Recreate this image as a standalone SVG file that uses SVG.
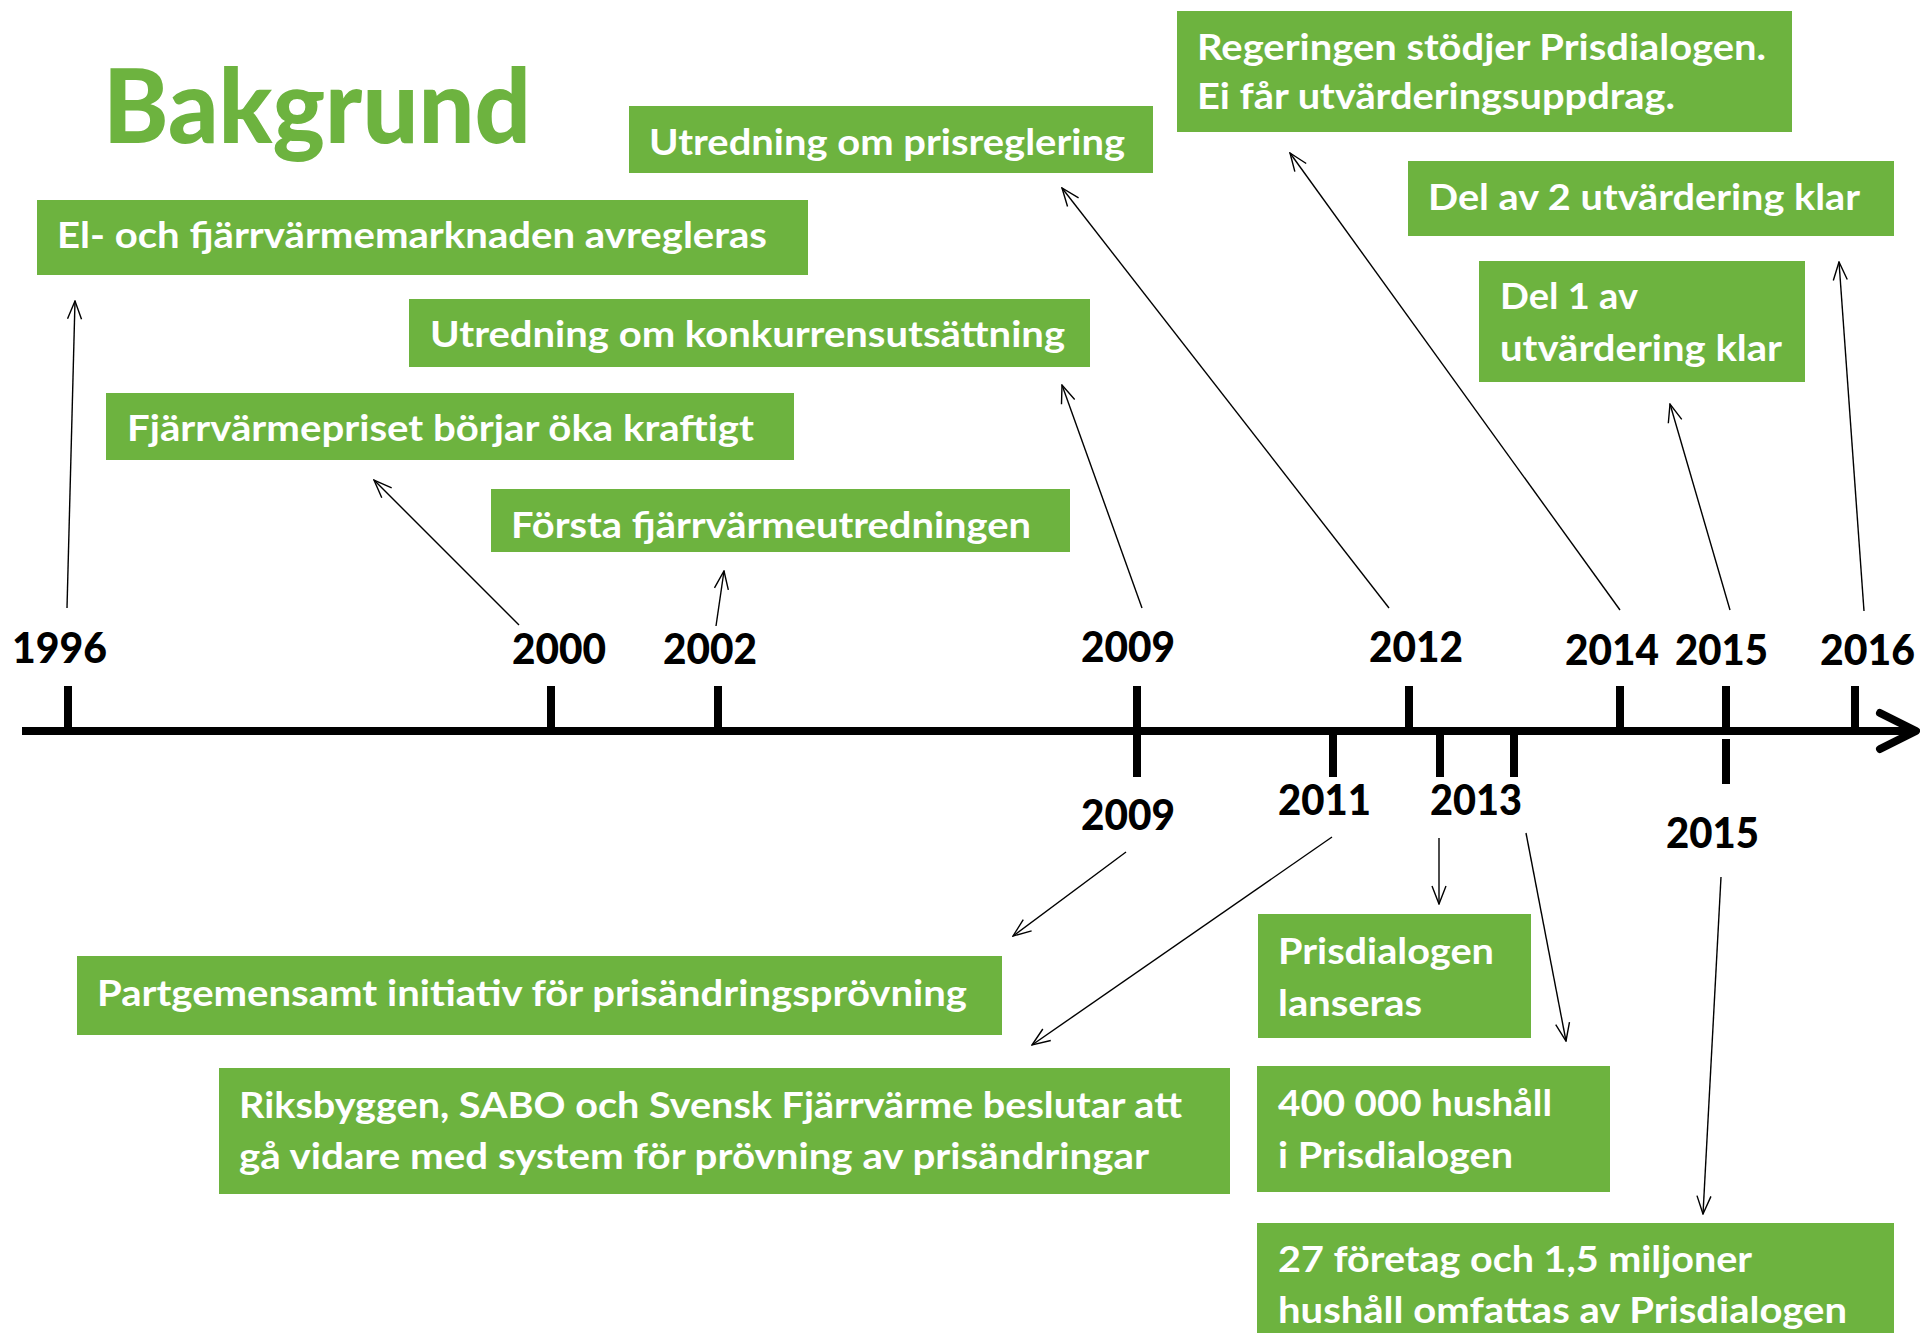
<svg xmlns="http://www.w3.org/2000/svg" width="1920" height="1333" viewBox="0 0 1920 1333">
<defs>
<style>
.box{fill:#6DB33F;}
.bt{font-family:Lato,"Open Sans","Liberation Sans",sans-serif;font-weight:700;font-size:36px;fill:#FFFFFF;}
.yr{font-family:Lato,"Open Sans","Liberation Sans",sans-serif;font-weight:900;font-size:42px;fill:#000000;}
.title{font-family:Lato,"Open Sans","Liberation Sans",sans-serif;font-weight:900;font-size:102px;fill:#6DB33F;}
.con{stroke:#000;stroke-width:1.4;fill:none;marker-end:url(#arr);}
.tick{stroke:#000;stroke-width:8;}
</style>
<marker id="arr" viewBox="0 0 20 16" refX="19" refY="8" markerWidth="20" markerHeight="16" markerUnits="userSpaceOnUse" orient="auto">
<path d="M1,1 L19,8 L1,15" fill="none" stroke="#000" stroke-width="1.4"/>
</marker>
</defs>
<rect width="1920" height="1333" fill="#FFFFFF"/>

<text class="title" x="103" y="143" textLength="428" lengthAdjust="spacingAndGlyphs">Bakgrund</text>

<g id="axis">
<line x1="22" y1="731" x2="1912" y2="731" stroke="#000" stroke-width="8"/>
<polyline points="1880,713 1916,731 1880,749" fill="none" stroke="#000" stroke-width="8" stroke-linecap="round" stroke-linejoin="round"/>
<line class="tick" x1="68" y1="686" x2="68" y2="731"/>
<line class="tick" x1="551" y1="686" x2="551" y2="731"/>
<line class="tick" x1="718" y1="686" x2="718" y2="731"/>
<line class="tick" x1="1137" y1="686" x2="1137" y2="777"/>
<line class="tick" x1="1409" y1="686" x2="1409" y2="731"/>
<line class="tick" x1="1620" y1="686" x2="1620" y2="731"/>
<line class="tick" x1="1726" y1="686" x2="1726" y2="731"/>
<line class="tick" x1="1726" y1="739" x2="1726" y2="784"/>
<line class="tick" x1="1855" y1="686" x2="1855" y2="731"/>
<line class="tick" x1="1333" y1="731" x2="1333" y2="777"/>
<line class="tick" x1="1440" y1="731" x2="1440" y2="777"/>
<line class="tick" x1="1514" y1="731" x2="1514" y2="777"/>
</g>

<g id="years">
<text class="yr" x="12" y="663" textLength="95" lengthAdjust="spacingAndGlyphs">1996</text>
<text class="yr" x="512" y="664" textLength="94" lengthAdjust="spacingAndGlyphs">2000</text>
<text class="yr" x="663" y="664" textLength="94" lengthAdjust="spacingAndGlyphs">2002</text>
<text class="yr" x="1081" y="662" textLength="94" lengthAdjust="spacingAndGlyphs">2009</text>
<text class="yr" x="1369" y="662" textLength="94" lengthAdjust="spacingAndGlyphs">2012</text>
<text class="yr" x="1565" y="665" textLength="94" lengthAdjust="spacingAndGlyphs">2014</text>
<text class="yr" x="1675" y="665" textLength="93" lengthAdjust="spacingAndGlyphs">2015</text>
<text class="yr" x="1820" y="665" textLength="95" lengthAdjust="spacingAndGlyphs">2016</text>
<text class="yr" x="1081" y="830" textLength="94" lengthAdjust="spacingAndGlyphs">2009</text>
<text class="yr" x="1278" y="815" textLength="93" lengthAdjust="spacingAndGlyphs">2011</text>
<text class="yr" x="1430" y="815" textLength="92" lengthAdjust="spacingAndGlyphs">2013</text>
<text class="yr" x="1666" y="848" textLength="93" lengthAdjust="spacingAndGlyphs">2015</text>
</g>

<g id="n-avregleras">
<rect class="box" x="37" y="200" width="771" height="75"/>
<text class="bt" x="57" y="248" textLength="710" lengthAdjust="spacingAndGlyphs">El- och fjärrvärmemarknaden avregleras</text>
</g>
<g id="n-prisreglering">
<rect class="box" x="629" y="106" width="524" height="67"/>
<text class="bt" x="649" y="155" textLength="476" lengthAdjust="spacingAndGlyphs">Utredning om prisreglering</text>
</g>
<g id="n-konkurrens">
<rect class="box" x="409" y="299" width="681" height="68"/>
<text class="bt" x="430" y="347" textLength="635" lengthAdjust="spacingAndGlyphs">Utredning om konkurrensutsättning</text>
</g>
<g id="n-priset">
<rect class="box" x="106" y="393" width="688" height="67"/>
<text class="bt" x="127" y="441" textLength="627" lengthAdjust="spacingAndGlyphs">Fjärrvärmepriset börjar öka kraftigt</text>
</g>
<g id="n-forsta">
<rect class="box" x="491" y="489" width="579" height="63"/>
<text class="bt" x="511" y="538" textLength="520" lengthAdjust="spacingAndGlyphs">Första fjärrvärmeutredningen</text>
</g>
<g id="n-regeringen">
<rect class="box" x="1177" y="11" width="615" height="121"/>
<text class="bt" x="1197" y="60" textLength="569" lengthAdjust="spacingAndGlyphs">Regeringen stödjer Prisdialogen.</text>
<text class="bt" x="1197" y="109" textLength="478" lengthAdjust="spacingAndGlyphs">Ei får utvärderingsuppdrag.</text>
</g>
<g id="n-del2">
<rect class="box" x="1408" y="161" width="486" height="75"/>
<text class="bt" x="1428" y="210" textLength="432" lengthAdjust="spacingAndGlyphs">Del av 2 utvärdering klar</text>
</g>
<g id="n-del1">
<rect class="box" x="1479" y="261" width="326" height="121"/>
<text class="bt" x="1500" y="309" textLength="138" lengthAdjust="spacingAndGlyphs">Del 1 av</text>
<text class="bt" x="1500" y="361" textLength="282" lengthAdjust="spacingAndGlyphs">utvärdering klar</text>
</g>
<g id="n-partgemensamt">
<rect class="box" x="77" y="956" width="925" height="79"/>
<text class="bt" x="97" y="1006" textLength="870" lengthAdjust="spacingAndGlyphs">Partgemensamt initiativ för prisändringsprövning</text>
</g>
<g id="n-riksbyggen">
<rect class="box" x="219" y="1068" width="1011" height="126"/>
<text class="bt" x="239" y="1118" textLength="943" lengthAdjust="spacingAndGlyphs">Riksbyggen, SABO och Svensk Fjärrvärme beslutar att</text>
<text class="bt" x="239" y="1169" textLength="910" lengthAdjust="spacingAndGlyphs">gå vidare med system för prövning av prisändringar</text>
</g>
<g id="n-lanseras">
<rect class="box" x="1258" y="914" width="273" height="124"/>
<text class="bt" x="1278" y="964" textLength="216" lengthAdjust="spacingAndGlyphs">Prisdialogen</text>
<text class="bt" x="1278" y="1016" textLength="144" lengthAdjust="spacingAndGlyphs">lanseras</text>
</g>
<g id="n-400000">
<rect class="box" x="1257" y="1066" width="353" height="126"/>
<text class="bt" x="1278" y="1116" textLength="274" lengthAdjust="spacingAndGlyphs">400 000 hushåll</text>
<text class="bt" x="1278" y="1168" textLength="235" lengthAdjust="spacingAndGlyphs">i Prisdialogen</text>
</g>
<g id="n-27foretag">
<rect class="box" x="1257" y="1223" width="637" height="120"/>
<text class="bt" x="1278" y="1272" textLength="474" lengthAdjust="spacingAndGlyphs">27 företag och 1,5 miljoner</text>
<text class="bt" x="1278" y="1323" textLength="569" lengthAdjust="spacingAndGlyphs">hushåll omfattas av Prisdialogen</text>
</g>

<g id="connectors">
<line class="con" x1="67" y1="608" x2="75" y2="301"/>
<line class="con" x1="519" y1="625" x2="374" y2="480"/>
<line class="con" x1="716" y1="626" x2="724" y2="571"/>
<line class="con" x1="1142" y1="608" x2="1062" y2="385"/>
<line class="con" x1="1389" y1="608" x2="1062" y2="188"/>
<line class="con" x1="1620" y1="610" x2="1290" y2="153"/>
<line class="con" x1="1730" y1="610" x2="1670" y2="404"/>
<line class="con" x1="1864" y1="611" x2="1839" y2="262"/>
<line class="con" x1="1126" y1="852" x2="1013" y2="936"/>
<line class="con" x1="1332" y1="837" x2="1032" y2="1045"/>
<line class="con" x1="1439" y1="838" x2="1439" y2="904"/>
<line class="con" x1="1526" y1="833" x2="1566" y2="1041"/>
<line class="con" x1="1721" y1="877" x2="1703" y2="1214"/>
</g>
</svg>
